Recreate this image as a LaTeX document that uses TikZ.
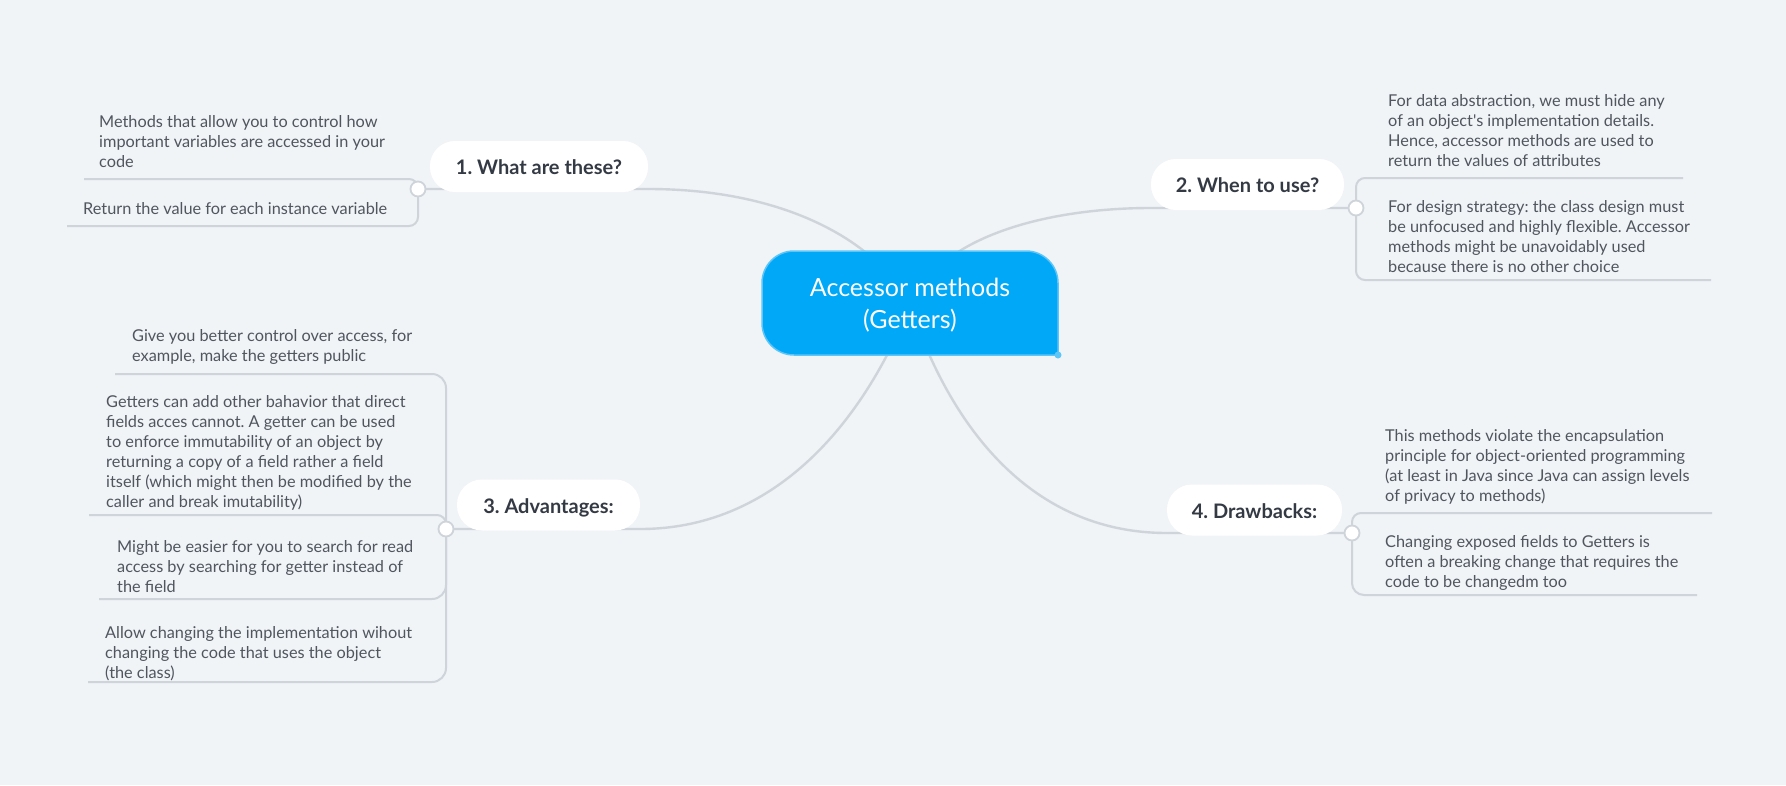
\documentclass[tikz,border=0pt]{standalone}
\usepackage{fontspec}
\setmainfont{Lato}[Ligatures=TeXOff]
\frenchspacing
\definecolor{bgc}{HTML}{F0F4F7}
\definecolor{linec}{HTML}{CED4D9}
\definecolor{rootc}{HTML}{00A8F7}
\definecolor{rootb}{HTML}{5EC5F7}
\definecolor{leaft}{HTML}{50555E}
\definecolor{pillt}{HTML}{343A44}
\pgfdeclarelayer{bglayer}
\pgfdeclarelayer{lines}
\pgfsetlayers{bglayer,lines,main}
\tikzset{
  pill/.style={fill=white, rounded corners=25pt, minimum height=51pt, inner sep=0pt,
    font=\bfseries\fontsize{20}{24}\selectfont, text=pillt, text height=20pt, text depth=4pt},
  junc/.style={circle, fill=white, draw=linec, line width=1.8pt, minimum size=15pt, inner sep=0pt},
  leaf/.style={anchor=base west, align=left, inner sep=0pt, text=leaft,
    font=\fontsize{16.3}{20}\selectfont},
  conn/.style={draw=linec, line width=2.4pt},
  leafline/.style={draw=linec, line width=2pt, rounded corners=9pt}
}
\begin{document}
\begin{tikzpicture}[x=1pt,y=-1pt]
\begin{pgfonlayer}{bglayer}
\fill[bgc] (0,0) rectangle (1786,785);
\end{pgfonlayer}
\useasboundingbox (0,0) rectangle (1786,785);

% root shape
\filldraw[fill=rootc, draw=rootb, line width=1.5pt, line cap=rect, rounded corners=32pt]
  (1058,355) -- (1058,251) -- (762,251) -- (762,355) -- (1058,355);
\fill[rootb] (1058,355) circle (3.5);
\node[font=\fontsize{25}{32}\selectfont, text=white, align=center] (root) at (910,305)
  {Accessor methods\\(Getters)};

% branch pills
\node[pill, minimum width=218pt] (b1) at (539,166.5) {1. What are these?};
\node[pill, minimum width=193pt] (b2) at (1247.5,184.5) {2. When to use?};
\node[pill, minimum width=183pt] (b3) at (548.5,505) {3. Advantages:};
\node[pill, minimum width=175pt] (b4) at (1254.5,510) {4. Drawbacks:};

% junctions
\node[junc] (j1) at (418,189) {};
\node[junc] (j2) at (1356,208) {};
\node[junc] (j3) at (446,529) {};
\node[junc] (j4) at (1352,533) {};

% leaves (anchored at the baseline of their last line)
\node[leaf] (l11) at (99,167) {Methods that allow you to control how\\important variables are accessed in your\\code};
\node[leaf] (l12) at (83,214) {Return the value for each instance variable};
\node[leaf] (l21) at (1388,166) {For data abstraction, we must hide any\\of an object's implementation details.\\Hence, accessor methods are used to\\return the values of attributes};
\node[leaf] (l22) at (1388,272) {For design strategy: the class design must\\be unfocused and highly flexible. Accessor\\methods might be unavoidably used\\because there is no other choice};
\node[leaf] (l31) at (132,361) {Give you better control over access, for\\example, make the getters public};
\node[leaf] (l32) at (106,507) {Getters can add other bahavior that direct\\fields acces cannot. A getter can be used\\to enforce immutability of an object by\\returning a copy of a field rather a field\\itself (which might then be modified by the\\caller and break imutability)};
\node[leaf] (l33) at (117,592) {Might be easier for you to search for read\\access by searching for getter instead of\\the field};
\node[leaf] (l34) at (105,678) {Allow changing the implementation wihout\\changing the code that uses the object\\(the class)};
\node[leaf] (l41) at (1385,501) {This methods violate the encapsulation\\principle for object-oriented programming\\(at least in Java since Java can assign levels\\of privacy to methods)};
\node[leaf] (l42) at (1385,587) {Changing exposed fields to Getters is\\often a breaking change that requires the\\code to be changedm too};

% underline ends
\coordinate (u11) at (84,179);
\coordinate (u12) at (67,226);
\coordinate (u21) at (1683,178);
\coordinate (u22) at (1711,280);
\coordinate (u31) at (115,374);
\coordinate (u32) at (89,515);
\coordinate (u33) at (99,599);
\coordinate (u34) at (88,682);
\coordinate (u41) at (1712,513);
\coordinate (u42) at (1697,595);

\begin{pgfonlayer}{lines}
% root to branches
\draw[conn] (j1.center) -- (j1 -| b1.east) .. controls (790,189) and (880,245) .. (root.center);
\draw[conn] (j2.center) -- (j2 -| b2.west) .. controls (1050,208) and (940,235) .. (root.center);
\draw[conn] (j3.center) -- (j3 -| b3.east) .. controls (770,529) and (860,430) .. (root.center);
\draw[conn] (j4.center) -- (j4 -| b4.west) .. controls (1040,533) and (955,440) .. (root.center);
% leaves
\draw[leafline] (u11) -- (u11 -| j1) -- (j1.center);
\draw[leafline] (u12) -- (u12 -| j1) -- (j1.center);
\draw[leafline] (u21) -- (u21 -| j2) -- (j2.center);
\draw[leafline] (u22) -- (u22 -| j2) -- (j2.center);
\draw[leafline, rounded corners=14pt] (u31) -- (u31 -| j3) -- (j3.center);
\draw[leafline] (u32) -- (u32 -| j3) -- (j3.center);
\draw[leafline, rounded corners=14pt] (u33) -- (u33 -| j3) -- (j3.center);
\draw[leafline, rounded corners=14pt] (u34) -- (u34 -| j3) -- (j3.center);
\draw[leafline] (u41) -- (u41 -| j4) -- (j4.center);
\draw[leafline, rounded corners=12pt] (u42) -- (u42 -| j4) -- (j4.center);
\end{pgfonlayer}
\end{tikzpicture}
\end{document}
